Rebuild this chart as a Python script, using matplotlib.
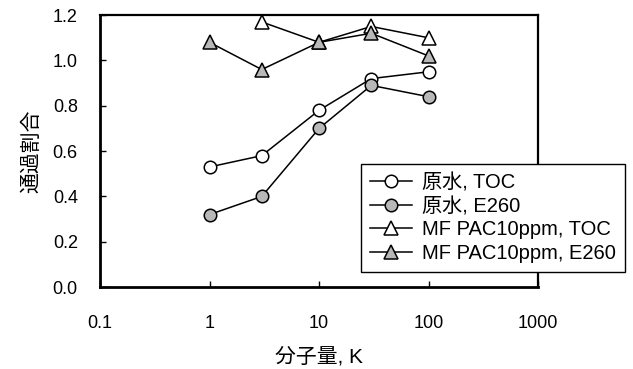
import matplotlib.pyplot as plt

plt.rcParams['font.family'] = ['Liberation Sans', 'Noto Sans CJK JP', 'DejaVu Sans']

# molecular weight fractions (K) and pass-through ratios
raw_x = [1, 3, 10, 30, 100]
raw_toc = [0.53, 0.58, 0.78, 0.92, 0.95]
raw_e260 = [0.32, 0.40, 0.70, 0.89, 0.84]

mf_toc_x = [3, 10, 30, 100]
mf_toc = [1.17, 1.08, 1.15, 1.10]
mf_e260_x = [1, 3, 10, 30, 100]
mf_e260 = [1.08, 0.96, 1.08, 1.12, 1.02]

labels = ['原水, TOC', '原水, E260', 'MF PAC10ppm, TOC', 'MF PAC10ppm, E260']
x_ticks = [0.1, 1, 10, 100, 1000]
x_tick_labels = ['0.1', '1', '10', '100', '1000']
y_ticks = [0.0, 0.2, 0.4, 0.6, 0.8, 1.0, 1.2]

fig = plt.figure(figsize=(6.33, 3.69), dpi=100)
ax = fig.add_axes([0.158, 0.222, 0.692, 0.737])

line_kw = dict(color='black', linewidth=1.1, markeredgecolor='black', markeredgewidth=1.1)
ax.plot(raw_x, raw_toc, marker='o', markersize=9, markerfacecolor='white', label=labels[0], **line_kw)
ax.plot(raw_x, raw_e260, marker='o', markersize=9, markerfacecolor='#b8b8b8', label=labels[1], **line_kw)
ax.plot(mf_toc_x, mf_toc, marker='^', markersize=10, markerfacecolor='white', label=labels[2], **line_kw)
ax.plot(mf_e260_x, mf_e260, marker='^', markersize=10, markerfacecolor='#b8b8b8', label=labels[3], **line_kw)

ax.set_xscale('log')
ax.set_xlim(0.1, 1000)
ax.set_ylim(0.0, 1.2)
ax.set_xticks(x_ticks)
ax.set_xticklabels(x_tick_labels)
ax.minorticks_off()
ax.set_yticks(y_ticks)
ax.set_yticklabels([f'{v:.1f}' for v in y_ticks])
ax.tick_params(direction='in', length=4, width=1, labelsize=13)
ax.tick_params(axis='x', pad=20)
ax.tick_params(axis='y', pad=16)

for side in ['left', 'bottom']:
    ax.spines[side].set_linewidth(2.0)
for side in ['top', 'right']:
    ax.spines[side].set_linewidth(1.6)

ax.set_xlabel('分子量, K', fontsize=15, labelpad=11)
ax.set_ylabel('通過割合', fontsize=15, labelpad=8)

leg = ax.legend(loc='lower left', bbox_to_anchor=(0.570, 0.263), bbox_transform=fig.transFigure,
                borderaxespad=0, fontsize=14.5, frameon=True, fancybox=False, framealpha=1,
                edgecolor='black', handlelength=2.1, handletextpad=0.5, labelspacing=0.22,
                borderpad=0.45)
leg.get_frame().set_linewidth(1.0)

fig.savefig('out.png', dpi=100)
